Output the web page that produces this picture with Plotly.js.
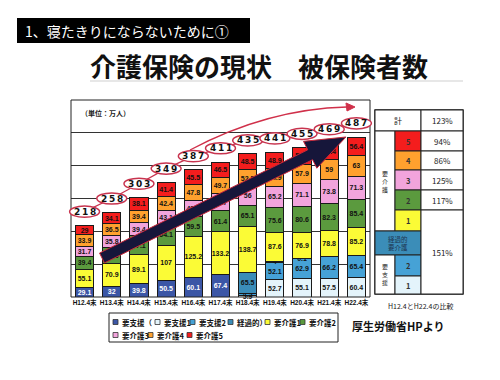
<!DOCTYPE html>
<html><head><meta charset="utf-8">
<script src="https://cdn.plot.ly/plotly-3.0.1.min.js"></script>
<style>html,body{margin:0;padding:0;background:#fff}</style>
</head><body><div id="chart" style="width:500px;height:380px"></div>
<script>
// ---------------- DATA ----------------
const categories = ['H12.4末','H13.4末','H14.4末','H15.4末','H16.4末','H17.4末','H18.4末','H19.4末','H20.4末','H21.4末','H22.4末'];
const seriesNames = ['要支援','要支援1','要支援2','経過的','要介護1','要介護2','要介護3','要介護4','要介護5'];
const youShien   = [29.1, 32, 39.8, 50.5, 60.1, 67.4, null, null, null, null, null];
const youShien1  = [null, null, null, null, null, null, 5.9, 52.7, 55.1, 57.5, 60.4];
const youShien2  = [null, null, null, null, null, null, 4.5, 52.1, 62.9, 66.2, 65.4];
const keikateki  = [null, null, null, null, null, null, 65.5, 4, 0.1, 0, null];
const youKaigo1  = [55.1, 70.9, 89.1, 107, 125.2, 133.2, 138.7, 87.6, 76.9, 78.8, 85.2];
const youKaigo2  = [39.4, 48.3, 57.1, 64.1, 59.5, 61.4, 65.1, 75.6, 80.6, 82.3, 85.4];
const youKaigo3  = [31.7, 35.8, 39.4, 43.1, 48.9, 52.7, 56, 65.2, 71.1, 73.8, 71.3];
const youKaigo4  = [33.9, 36.5, 39.4, 42.4, 47.8, 49.7, 52.5, 54.9, 57.9, 59, 63];
const youKaigo5  = [29, 34.1, 38.1, 41.4, 45.5, 46.5, 48.5, 48.9, 50.4, 51.4, 56.4];
const totals     = [218, 258, 303, 349, 387, 411, 435, 441, 455, 469, 487];
// comparison table H12.4 vs H22.4
const cmpTotalLabel = '計';
const cmpTotalPct = '123%';
const cmpKaigoLevels = ['5','4','3','2'];
const cmpKaigoPct = ['94%','86%','125%','117%'];
const cmpLowerPct = '151%';

// ---------------- STYLE ----------------
const colors = ['#3b56a6','#e4f4fb','#46a2d6','#3b8db8','#fbfb36','#5b9a3e','#f2a4dc','#ffa12e','#f41d1d'];
const textColors = ['#ffffff','#111','#111','#111','#111','#111','#111','#111','#111'];
const seriesData = [youShien, youShien1, youShien2, keikateki, youKaigo1, youKaigo2, youKaigo3, youKaigo4, youKaigo5];
const L=71, R=370, T=100, B=297, W=500, H=380;
const px = x => (x-L)/(R-L);
const py = y => (B-y)/(B-T);
const JP = '"Noto Sans CJK JP", sans-serif';
const NUM = '"Liberation Sans", "Noto Sans CJK JP", sans-serif';
const YMAX = 600;
const XMIN = -0.5, XMAX = categories.length - 0.5;
const LIFT = 42;   // label lift above bar top, data units
const EH = 17;     // ellipse half-height, data units
const EW = 0.55;   // ellipse half-width, category units
const xFrac = v => (v - XMIN) / (XMAX - XMIN);
const yFrac = v => v / YMAX;

const traces = seriesData.map((vals,k)=>({
  type:'bar', name: seriesNames[k], x: categories, y: vals,
  text: vals.map(v => v==null ? '' : String(v)),
  textposition:'inside', insidetextanchor:'middle', textangle:0,
  textfont:{family:NUM, size:7, weight:'bold', color:textColors[k]},
  marker:{color:colors[k], line:{color:'#1a1a1a', width:1}},
  hoverinfo:'x+y+name', showlegend:false, cliponaxis:false
}));
traces.push({
  type:'scatter', mode:'lines', x: categories, y: totals.map(t=>t+LIFT),
  line:{color:'#c8344f', width:1.3}, hoverinfo:'skip', showlegend:false
});

const shapes = [];
const annotations = [];

// frame
shapes.push({type:'rect', xref:'paper', yref:'paper', x0:0, x1:1, y0:0, y1:1, line:{color:'#222', width:1}, layer:'above'});

// big navy arrow
function arrowPath(sx,sy,tx,ty,hw,headL,headW){
  const dx=tx-sx, dy=ty-sy, len=Math.hypot(dx,dy), ux=dx/len, uy=dy/len, nx=-uy, ny=ux;
  const bx=tx-ux*headL, by=ty-uy*headL;
  const pts=[[sx+nx*hw,sy+ny*hw],[bx+nx*hw,by+ny*hw],[bx+nx*headW,by+ny*headW],[tx,ty],
             [bx-nx*headW,by-ny*headW],[bx-nx*hw,by-ny*hw],[sx-nx*hw,sy-ny*hw]];
  return 'M'+pts.map(p=>px(p[0]).toFixed(4)+','+py(p[1]).toFixed(4)).join(' L')+' Z';
}
shapes.push({type:'path', xref:'paper', yref:'paper', path: arrowPath(102,258,346,137,5.5,40,15),
  fillcolor:'#16163a', line:{color:'#c8283a', width:1}, layer:'above'});

// red curved arrow
function P(x,y){return px(x).toFixed(4)+','+py(y).toFixed(4);}
shapes.push({type:'path', xref:'paper', yref:'paper', path:'M'+P(190,150)+' Q'+P(267,109)+' '+P(347,107),
  line:{color:'#d0304a', width:1.3}, layer:'above'});
shapes.push({type:'path', xref:'paper', yref:'paper', path:'M'+P(355,107)+' L'+P(346,103)+' L'+P(347,111)+' Z',
  fillcolor:'#d0304a', line:{color:'#d0304a', width:1}, layer:'above'});

// ellipse as 4 cubic bezier arcs (paper units)
function ellipsePath(cx,cy,rx,ry){
  const k=0.5523, f=v=>v.toFixed(5);
  const pt=(x,y)=>f(x)+','+f(y);
  return 'M'+pt(cx+rx,cy)+
    ' C'+pt(cx+rx,cy+k*ry)+' '+pt(cx+k*rx,cy+ry)+' '+pt(cx,cy+ry)+
    ' C'+pt(cx-k*rx,cy+ry)+' '+pt(cx-rx,cy+k*ry)+' '+pt(cx-rx,cy)+
    ' C'+pt(cx-rx,cy-k*ry)+' '+pt(cx-k*rx,cy-ry)+' '+pt(cx,cy-ry)+
    ' C'+pt(cx+k*rx,cy-ry)+' '+pt(cx+rx,cy-k*ry)+' '+pt(cx+rx,cy)+' Z';
}

// total ellipses + labels
totals.forEach((t,i)=>{
  const cx=xFrac(i), cy=yFrac(t+LIFT);
  const rx=xFrac(i+EW)-cx, ry=yFrac(t+LIFT+EH)-cy;
  shapes.push({type:'path', xref:'paper', yref:'paper', path: ellipsePath(cx,cy,rx,ry),
    fillcolor:'#ffffff', line:{color:'#c8344f', width:1.5}, layer:'above'});
  annotations.push({x:i, y:t+LIFT, xref:'x', yref:'y', text:String(t).split('').join('\u2009'), showarrow:false,
    font:{family:'"DejaVu Sans", sans-serif', size:9, weight:'bold', color:'#111'}});
});

// unit label
annotations.push({xref:'paper', yref:'paper', x:px(79), y:py(113), xanchor:'left', yanchor:'middle',
  text:'（単位：万人）', showarrow:false, font:{family:JP, size:7, weight:'bold', color:'#222'}});

// header banner & title
shapes.push({type:'rect', xref:'paper', yref:'paper', x0:px(17), x1:px(250), y0:py(18), y1:py(43), fillcolor:'#000', line:{width:0}});
annotations.push({xref:'paper', yref:'paper', x:px(23), y:py(31), xanchor:'left', yanchor:'middle',
  text:'1、寝たきりにならないために①', showarrow:false, font:{family:JP, size:14, color:'#fff'}});
annotations.push({xref:'paper', yref:'paper', x:px(259), y:py(66), xanchor:'center', yanchor:'middle',
  text:'介護保険の現状　被保険者数', showarrow:false, font:{family:JP, size:26, weight:'bold', color:'#111'}});
shapes.push({type:'line', xref:'paper', yref:'paper', x0:px(90), x1:px(463), y0:py(81), y1:py(81), line:{color:'#cfcfcf', width:1}});

// comparison table
const c0=375,c1=395,c2=421,c3=463;
const rows=[110,131,151,170,190,210,231,255,276,294];
function cell(x0,x1,y0,y1,fill,lw){
  shapes.push({type:'rect', xref:'paper', yref:'paper', x0:px(x0), x1:px(x1), y0:py(y0), y1:py(y1),
    fillcolor:fill||'#fff', line:{color:'#222', width:lw||1}, layer:'above'});
}
function txt(x,y,t,size,color,weight){
  annotations.push({xref:'paper', yref:'paper', x:px(x), y:py(y), text:t, showarrow:false,
    xanchor:'center', yanchor:'middle', font:{family:JP, size:size||8, color:color||'#222', weight:weight||'normal'}});
}
cell(c0,c3,rows[0],rows[9],'#fff',1.5);
cell(c0,c2,rows[0],rows[1]); txt((c0+c2)/2,(rows[0]+rows[1])/2,cmpTotalLabel,8);
cell(c2,c3,rows[0],rows[1]); txt((c2+c3)/2,(rows[0]+rows[1])/2,cmpTotalPct,8);
cell(c0,c1,rows[1],rows[6]); txt((c0+c1)/2,(rows[1]+rows[6])/2,'要<br>介<br>護',6);
const kaigoColorIdx=[8,7,6,5];
cmpKaigoLevels.forEach((lv,k)=>{
  cell(c1,c2,rows[1+k],rows[2+k],colors[kaigoColorIdx[k]]);
  txt((c1+c2)/2,(rows[1+k]+rows[2+k])/2,lv,7.5,'#333','bold');
  cell(c2,c3,rows[1+k],rows[2+k]); txt((c2+c3)/2,(rows[1+k]+rows[2+k])/2,cmpKaigoPct[k],8);
});
cell(c1,c2,rows[5],rows[6],colors[4]); txt((c1+c2)/2,(rows[5]+rows[6])/2,'1',7.5,'#333','bold');
cell(c0,c2,rows[6],rows[7],colors[3]); txt((c0+c2)/2,(rows[6]+rows[7])/2,'経過的<br>要介護',6.5,'#1d3550');
cell(c0,c1,rows[7],rows[9]); txt((c0+c1)/2,(rows[7]+rows[9])/2,'要<br>支<br>援',6);
cell(c1,c2,rows[7],rows[8],colors[2]); txt((c1+c2)/2,(rows[7]+rows[8])/2,'2',7.5,'#333','bold');
cell(c1,c2,rows[8],rows[9],colors[1]); txt((c1+c2)/2,(rows[8]+rows[9])/2,'1',7.5,'#333','bold');
cell(c2,c3,rows[5],rows[9]); txt((c2+c3)/2,(rows[5]+rows[9])/2,cmpLowerPct,8);
txt(420,306,'H12.4とH22.4の比較',7,'#222');

// legend (manual)
shapes.push({type:'rect', xref:'paper', yref:'paper', x0:px(109), x1:px(338), y0:py(313), y1:py(342), line:{color:'#222', width:1}, fillcolor:'#fff'});
const legendRows = [
  [[0,113,'要支援（'],[1,155,'要支援1'],[2,190,'要支援2'],[3,228,'経過的）'],[4,265,'要介護1'],[5,300,'要介護2']],
  [[6,113,'要介護3'],[7,148,'要介護4'],[8,187,'要介護5']]
];
legendRows.forEach((row,r)=>{
  const y = r===0 ? 322 : 335;
  row.forEach(([k,x,label])=>{
    shapes.push({type:'rect', xref:'paper', yref:'paper', x0:px(x), x1:px(x+5), y0:py(y-2.5), y1:py(y+2.5),
      fillcolor:colors[k], line:{color:'#333', width:0.8}});
    annotations.push({xref:'paper', yref:'paper', x:px(x+6.5), y:py(y), xanchor:'left', yanchor:'middle',
      text:label, showarrow:false, font:{family:JP, size:7.5, weight:'bold', color:'#111'}});
  });
});
annotations.push({xref:'paper', yref:'paper', x:px(398), y:py(326), xanchor:'center', yanchor:'middle',
  text:'厚生労働省HPより', showarrow:false, font:{family:JP, size:11, weight:'bold', color:'#111'}});

const layout = {
  width:W, height:H, margin:{l:L, r:W-R, t:T, b:H-B},
  paper_bgcolor:'#fff', plot_bgcolor:'#fff',
  barmode:'stack', bargap:0.33,
  showlegend:false,
  uniformtext:{minsize:7, mode:'show'},
  xaxis:{type:'category', range:[XMIN,XMAX], tickangle:0, tickfont:{family:NUM, size:6.5, weight:'bold', color:'#111'},
    ticks:'', showgrid:false, zeroline:false, fixedrange:true, automargin:false},
  yaxis:{range:[0,YMAX], dtick:100, showticklabels:false, showgrid:true, gridcolor:'#333', gridwidth:1,
    zeroline:false, ticks:'', fixedrange:true},
  shapes, annotations
};
Plotly.newPlot('chart', traces, layout, {staticPlot:true, displayModeBar:false});
</script></body></html>
